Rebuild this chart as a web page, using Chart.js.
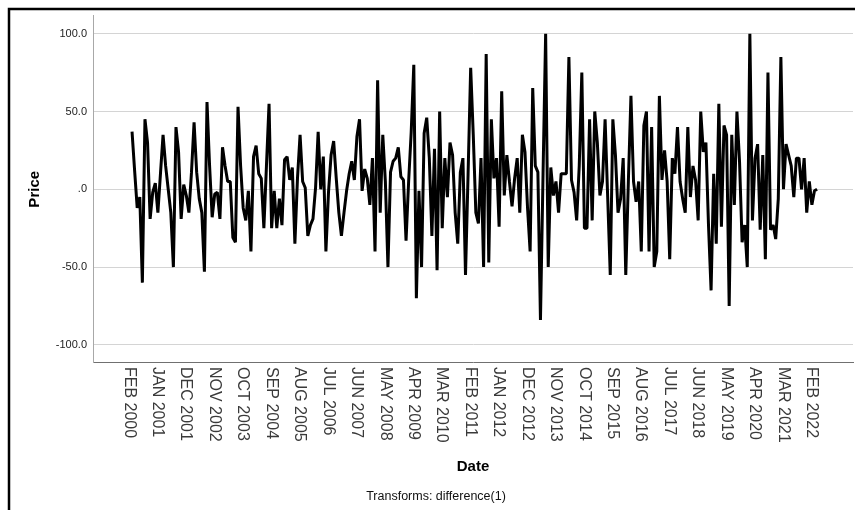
<!DOCTYPE html>
<html>
<head>
<meta charset="utf-8">
<script src="https://cdn.jsdelivr.net/npm/chart.js@4.4.1/dist/chart.umd.min.js"></script>
<style>
  html, body { margin: 0; padding: 0; background: #fff; }
</style>
</head>
<body>
<canvas id="chart" width="855" height="510"></canvas>
<script>
// monthly differences, first value = FEB 2000
const priceDiff = [
    37, 12, -12, -5, -60, 45, 30, -19, -2, 4, -15,             // 2000
    10, 35, 15, 0, -15, -50, 40, 24, -19, 3, -4, -15,         // 2001
    11, 43, 11, -6, -15, -53, 56, 15, -18, -3, -2, -19,       // 2002
    27, 15, 5, 5, -31, -34, 53, 15, -12, -20, -1, -40,        // 2003
    21, 28, 10, 7, -25, 15, 55, -25, -1, -25, -6, -23,        // 2004
    19, 21, 6, 14, -35, 7, 35, 5, 1, -30, -23, -19,           // 2005
    1, 37, 0, 21, -40, -2, 22, 31, 7, -15, -30, -15,          // 2006
    -1, 10, 18, 6, 34, 45, -1, 13, 7, -10, 20, -40,           // 2007
    70, -15, 35, 5, -50, 11, 18, 20, 27, 8, 6, -33,           // 2008
    5, 37, 80, -70, -1, -50, 36, 46, 20, -30, 26, -52,        // 2009
    50, -25, 20, -5, 30, 22, -15, -35, 11, 20, -55, 10,       // 2010
    78, 35, -15, -22, 20, -50, 87, -47, 45, 7, 20, -24,       // 2011
    63, -4, 22, 5, -11, 7, 20, -15, 35, 24, -12, -40,         // 2012
    65, 15, 11, -84, 10, 100, -50, 14, -4, 5, -15, 10,        // 2013
    10, 10, 85, 6, -2, -20, 15, 75, -25, -25, 45, -20,        // 2014
    50, 30, -4, 5, 45, -5, -55, 45, 22, -15, -6, 20,          // 2015
    -55, 5, 60, 5, -8, 5, -40, 41, 50, -40, 40, -50,          // 2016
    -40, 60, 6, 25, 5, -45, 20, 10, 40, 5, -6, -15,           // 2017
    40, -5, 15, 6, -20, 50, 24, 30, -23, -65, 10, -35,        // 2018
    55, -24, 41, 35, -75, 35, -10, 50, 18, -34, -23, -50,     // 2019
    100, -20, 20, 29, -26, 22, -45, 75, -26, -23, -32, -6,    // 2020
    85, 0, 29, 22, 15, -5, 20, 20, 0, 20, -15, 5,             // 2021
    -10, -1, 0                                                // 2022
];

const monthNames = ['JAN', 'FEB', 'MAR', 'APR', 'MAY', 'JUN', 'JUL', 'AUG', 'SEP', 'OCT', 'NOV', 'DEC'];
const months = priceDiff.map((v, i) => monthNames[(i + 1) % 12] + ' ' + (2000 + Math.floor((i + 1) / 12)));

const tickLabels = ['FEB 2000', 'JAN 2001', 'DEC 2001', 'NOV 2002', 'OCT 2003', 'SEP 2004', 'AUG 2005',
    'JUL 2006', 'JUN 2007', 'MAY 2008', 'APR 2009', 'MAR 2010', 'FEB 2011', 'JAN 2012', 'DEC 2012',
    'NOV 2013', 'OCT 2014', 'SEP 2015', 'AUG 2016', 'JUL 2017', 'JUN 2018', 'MAY 2019', 'APR 2020',
    'MAR 2021', 'FEB 2022'];
const yTicks = [-100, -50, 0, 50, 100];

const FONT = '"Liberation Sans", Arial, sans-serif';

// SPSS style: x labels turned clockwise, titles and footnote
const spssText = {
    id: 'spssText',
    beforeDraw(chart) {
        const ctx = chart.ctx;
        ctx.save();
        ctx.fillStyle = '#fff';
        ctx.fillRect(0, 0, chart.width, chart.height);
        ctx.restore();
    },
    afterDraw(chart) {
        const { ctx, chartArea, scales } = chart;
        ctx.save();
        ctx.strokeStyle = '#000';
        ctx.lineWidth = 2.5;
        ctx.strokeRect(9, 9, chart.width + 30, chart.height + 30);

        ctx.fillStyle = '#3a3a3a';
        ctx.font = '16px ' + FONT;
        ctx.textAlign = 'left';
        ctx.textBaseline = 'middle';
        tickLabels.forEach((lab, k) => {
            const idx = months.indexOf(lab);
            const px = scales.x.getPixelForValue(idx) - 3;
            ctx.save();
            ctx.translate(px, chartArea.bottom + 5);
            ctx.rotate(Math.PI / 2);
            ctx.fillText(lab, 0, 0);
            ctx.restore();
        });

        ctx.fillStyle = '#000';
        ctx.font = 'bold 15px ' + FONT;
        ctx.textAlign = 'center';
        ctx.fillText('Date', (chartArea.left + chartArea.right) / 2, 467);
        ctx.save();
        ctx.translate(35, scales.y.getPixelForValue(0));
        ctx.rotate(-Math.PI / 2);
        ctx.fillText('Price', 0, 0);
        ctx.restore();

        ctx.font = '12.5px ' + FONT;
        ctx.fillStyle = '#111';
        ctx.fillText('Transforms: difference(1)', 436, 497);
        ctx.restore();
    }
};

new Chart(document.getElementById('chart'), {
    type: 'line',
    data: {
        datasets: [{
            label: 'Price',
            data: priceDiff.map((v, i) => ({ x: i, y: v })),
            borderColor: '#000',
            borderWidth: 3,
            borderJoinStyle: 'bevel',
            pointRadius: 0,
            tension: 0,
            fill: false
        }]
    },
    options: {
        responsive: false,
        animation: false,
        layout: { padding: { left: 8, top: 15, right: 2, bottom: 148 } },
        plugins: { legend: { display: false }, tooltip: { enabled: false } },
        scales: {
            x: {
                type: 'linear',
                min: -15.1,
                max: 278.9,
                grid: { display: false, drawTicks: false },
                border: { color: '#707070', width: 1 },
                ticks: { display: false }
            },
            y: {
                min: -111,
                max: 112,
                afterBuildTicks: s => { s.ticks = yTicks.map(v => ({ value: v })); },
                afterFit: s => { s.width = 85; },
                grid: { color: '#d4d4d4', lineWidth: 1, drawTicks: false },
                border: { color: '#a8a8a8', width: 1 },
                ticks: {
                    padding: 6,
                    color: '#222',
                    font: { size: 11, family: FONT },
                    callback: v => v === 0 ? '.0' : v.toFixed(1)
                }
            }
        }
    },
    plugins: [spssText]
});
</script>
</body>
</html>
